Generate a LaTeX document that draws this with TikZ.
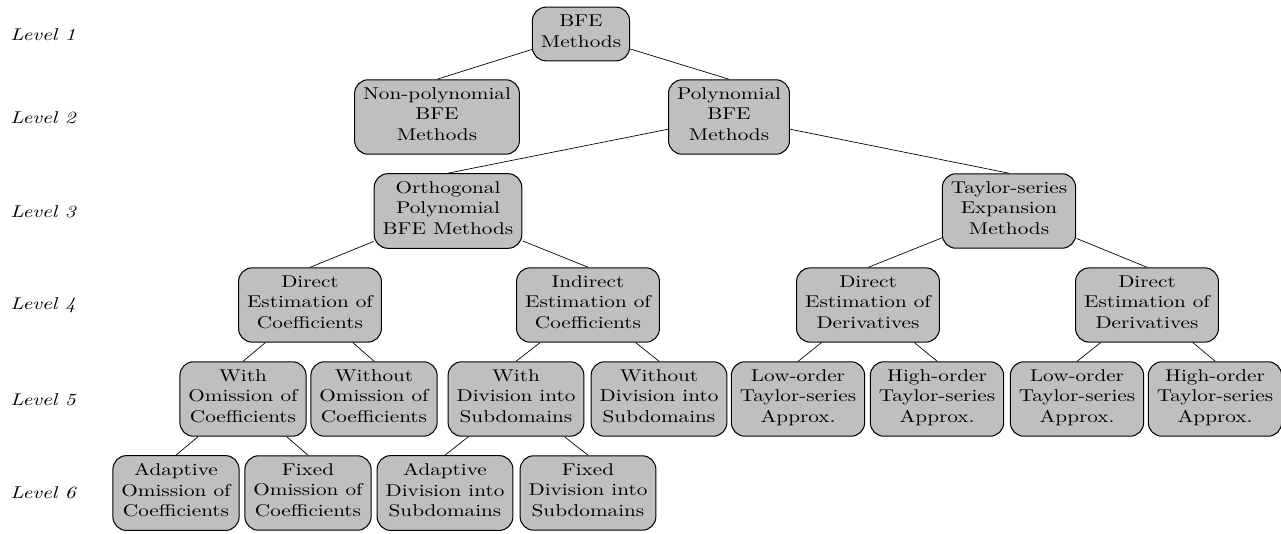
\documentclass[tikz,border=0pt]{standalone}
\tikzset{bfebox/.style={draw,semithick,fill=gray!50,rounded corners=8pt,align=center,
    inner xsep=4pt,inner ysep=4.5pt,execute at begin node=\strut,execute at end node=\strut},
  levellabel/.style={anchor=west,inner sep=0pt,font=\itshape}}

\begin{document}
\begin{tikzpicture}[x=0.4716pt,y=-0.5848pt,xscale=1.24,every node/.append style={transform shape}]
  \useasboundingbox (0,0) rectangle (1281,533);
  % level labels
  \node[levellabel] (lev1) at (10,35) {Level 1};
  \node[levellabel] (lev2) at (10,118) {Level 2};
  \node[levellabel] (lev3) at (10,212) {Level 3};
  \node[levellabel] (lev4) at (10,305) {Level 4};
  \node[levellabel] (lev5) at (10,400) {Level 5};
  \node[levellabel] (lev6) at (10,493) {Level 6};
  % tree
  \node[bfebox] (bfe) at (581,34) {BFE\\Methods};
  \node[bfebox] (nonpoly) at (437,117) {Non-polynomial\\BFE\\Methods};
  \node[bfebox] (poly) at (729,117) {Polynomial\\BFE\\Methods};
  \node[bfebox] (ortho) at (448,211) {Orthogonal\\Polynomial\\BFE Methods};
  \node[bfebox] (taylor) at (1009,211) {Taylor-series\\Expansion\\Methods};
  \node[bfebox] (dircoef) at (310,305) {Direct\\Estimation of\\Coefficients};
  \node[bfebox] (indcoef) at (588,305) {Indirect\\Estimation of\\Coefficients};
  \node[bfebox] (dirderA) at (868,305) {Direct\\Estimation of\\Derivatives};
  \node[bfebox] (dirderB) at (1147,305) {Direct\\Estimation of\\Derivatives};
  \node[bfebox] (withom) at (243,399) {With\\Omission of\\Coefficients};
  \node[bfebox] (withoutom) at (374,399) {Without\\Omission of\\Coefficients};
  \node[bfebox] (withdiv) at (516,399) {With\\Division into\\Subdomains};
  \node[bfebox] (withoutdiv) at (659,399) {Without\\Division into\\Subdomains};
  \node[bfebox] (lowA) at (798,399) {Low-order\\Taylor-series\\Approx.};
  \node[bfebox] (highA) at (937,399) {High-order\\Taylor-series\\Approx.};
  \node[bfebox] (lowB) at (1077,399) {Low-order\\Taylor-series\\Approx.};
  \node[bfebox] (highB) at (1215,399) {High-order\\Taylor-series\\Approx.};
  \node[bfebox] (adaptom) at (176,493) {Adaptive\\Omission of\\Coefficients};
  \node[bfebox] (fixedom) at (308,493) {Fixed\\Omission of\\Coefficients};
  \node[bfebox] (adaptdiv) at (445,493) {Adaptive\\Division into\\Subdomains};
  \node[bfebox] (fixeddiv) at (588,493) {Fixed\\Division into\\Subdomains};
  % edges
  \draw (bfe) -- (nonpoly.north);
  \draw (bfe) -- (poly.north);
  \draw (poly) -- (ortho.north);
  \draw (poly) -- (taylor.north);
  \draw (ortho) -- (dircoef.north);
  \draw (ortho) -- (indcoef.north);
  \draw (taylor) -- (dirderA.north);
  \draw (taylor) -- (dirderB.north);
  \draw (dircoef) -- (withom.north);
  \draw (dircoef) -- (withoutom.north);
  \draw (indcoef) -- (withdiv.north);
  \draw (indcoef) -- (withoutdiv.north);
  \draw (dirderA) -- (lowA.north);
  \draw (dirderA) -- (highA.north);
  \draw (dirderB) -- (lowB.north);
  \draw (dirderB) -- (highB.north);
  \draw (withom) -- (adaptom.north);
  \draw (withom) -- (fixedom.north);
  \draw (withdiv) -- (adaptdiv.north);
  \draw (withdiv) -- (fixeddiv.north);
\end{tikzpicture}
\end{document}
